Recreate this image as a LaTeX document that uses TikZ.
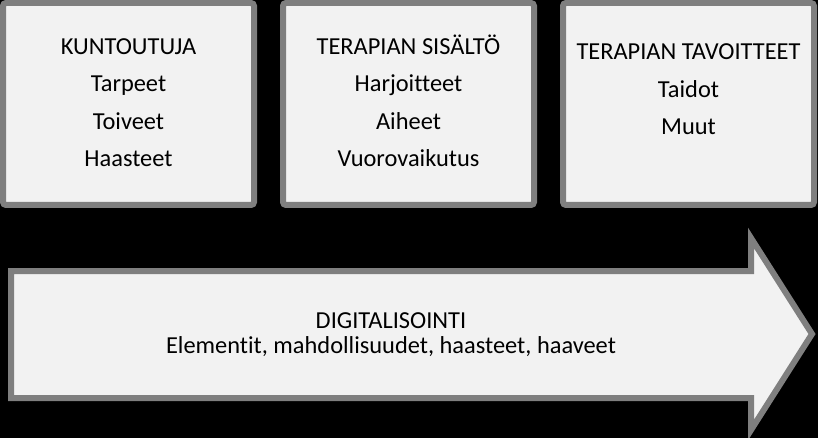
\documentclass[tikz,border=0pt]{standalone}
\usepackage{fontspec}
\setmainfont{Carlito}[Ligatures={NoCommon}]
\usetikzlibrary{positioning}
\definecolor{panelfill}{HTML}{F2F2F2}
\definecolor{panelline}{HTML}{7F7F7F}
\begin{document}
\begin{tikzpicture}[x=1pt, y=-1pt,
    panel/.style={rectangle, draw=panelline, fill=panelfill, line width=6pt, rounded corners=3pt, minimum width=251pt, minimum height=202pt, inner sep=0pt},
    paneltext/.style={align=center, anchor=base, inner sep=0pt, font=\fontsize{24.4}{37.5}\selectfont},
    arrowbody/.style={draw=panelline, fill=panelfill, line width=6pt}]
    \useasboundingbox (0,0) rectangle (818,438);
    \fill[black] (0,0) rectangle (818,438);

    \node[panel] (kuntoutuja) at (128.5,104) {};
    \node[panel, right=23pt of kuntoutuja] (sisalto) {};
    \node[panel, right=23pt of sisalto] (tavoitteet) {};

    \node[paneltext] (kuntoutujatext) at ([yshift=-167pt]kuntoutuja.north) {KUNTOUTUJA\\Tarpeet\\Toiveet\\Haasteet};
    \node[paneltext] (sisaltotext) at ([yshift=-167pt]sisalto.north) {TERAPIAN SISÄLTÖ\\Harjoitteet\\Aiheet\\Vuorovaikutus};
    \node[paneltext] (tavoitteettext) at ([yshift=-135pt]tavoitteet.north) {TERAPIAN TAVOITTEET\\Taidot\\Muut};

    % big arrow
    \draw[arrowbody] (11,271) -- (751,271) -- (751,238) -- (812,334) -- (751,430) -- (751,398) -- (11,398) -- cycle;
    \node[paneltext, font=\fontsize{24.4}{25}\selectfont] (digi) at (391,353) {DIGITALISOINTI\\Elementit, mahdollisuudet, haasteet, haaveet};
\end{tikzpicture}
\end{document}
